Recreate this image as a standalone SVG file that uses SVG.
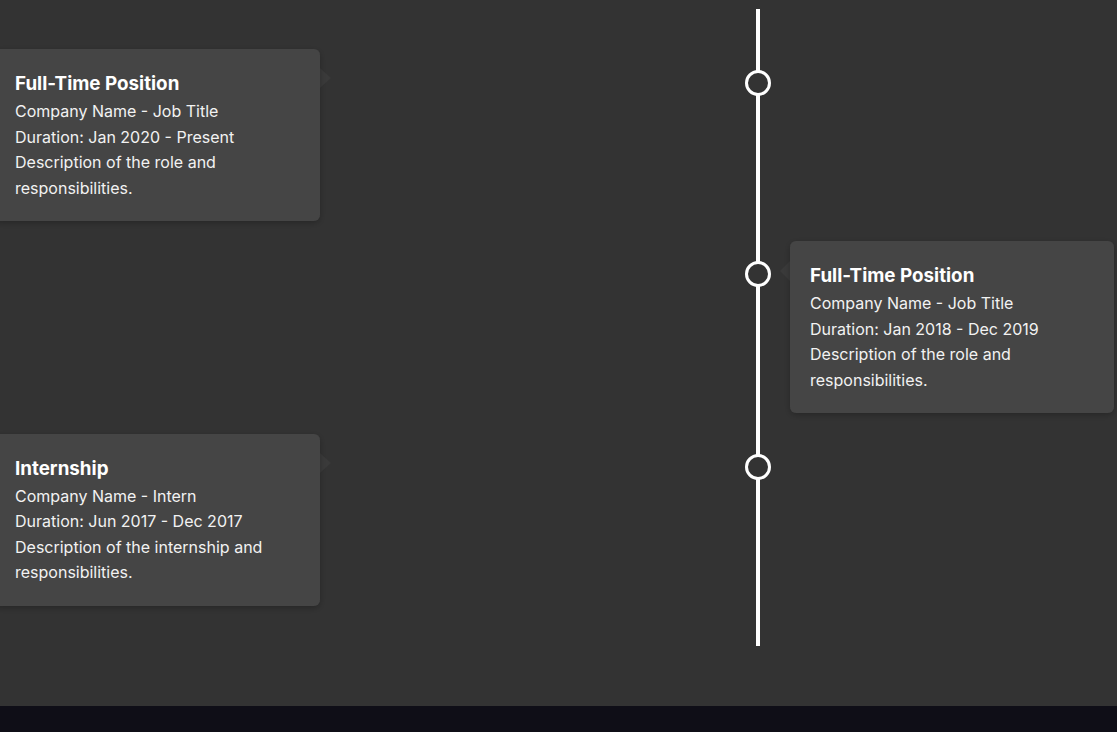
<svg xmlns="http://www.w3.org/2000/svg" width="1117" height="732" viewBox="0 0 1117 732">
  <style>
    .card { fill: #444444; }
    .tip { fill: #3a3a3a; }
    .title { font-family: Inter, "Noto Sans", sans-serif; font-size: 18.8px; font-weight: 700; fill: #ffffff; }
    .body { font-family: Inter, "Noto Sans", sans-serif; font-size: 16px; font-weight: 400; fill: #f2f2f2; }
    .dot { fill: #333333; stroke: #ffffff; stroke-width: 3; }
  </style>
  <defs>
    <filter id="shadow" x="-10%" y="-10%" width="120%" height="130%">
      <feDropShadow dx="0" dy="2" stdDeviation="3" flood-color="#000" flood-opacity="0.25"/>
    </filter>
  </defs>
  <rect x="0" y="0" width="1117" height="706" fill="#333333"/>
  <rect x="0" y="706" width="1117" height="26" fill="#0f0e17"/>

  <g id="connectors">
    <rect x="756" y="9" width="4" height="637" fill="#ffffff"/>
  </g>

  <g id="dot-2020"><circle class="dot" cx="758" cy="83" r="11.5"/></g>
  <g id="dot-2018"><circle class="dot" cx="758" cy="274" r="11.5"/></g>
  <g id="dot-2017"><circle class="dot" cx="758" cy="467" r="11.5"/></g>

  <g id="card-2020">
    <polygon class="tip" points="320,68 331,78 320,88"/>
    <rect class="card" x="-6" y="49" width="326" height="172" rx="6" filter="url(#shadow)"/>
    <text class="title" x="15" y="90">Full-Time Position</text>
    <text class="body" x="15" y="117">Company Name - Job Title</text>
    <text class="body" x="15" y="143">Duration: Jan 2020 - Present</text>
    <text class="body" x="15" y="168">Description of the role and</text>
    <text class="body" x="15" y="194">responsibilities.</text>
  </g>

  <g id="card-2018">
    <polygon class="tip" points="790,261 780,271 790,281"/>
    <rect class="card" x="790" y="241" width="324" height="172" rx="6" filter="url(#shadow)"/>
    <text class="title" x="810" y="282">Full-Time Position</text>
    <text class="body" x="810" y="309">Company Name - Job Title</text>
    <text class="body" x="810" y="335">Duration: Jan 2018 - Dec 2019</text>
    <text class="body" x="810" y="360">Description of the role and</text>
    <text class="body" x="810" y="386">responsibilities.</text>
  </g>

  <g id="card-2017">
    <polygon class="tip" points="320,453 331,463 320,473"/>
    <rect class="card" x="-6" y="434" width="326" height="172" rx="6" filter="url(#shadow)"/>
    <text class="title" x="15" y="475">Internship</text>
    <text class="body" x="15" y="502">Company Name - Intern</text>
    <text class="body" x="15" y="527">Duration: Jun 2017 - Dec 2017</text>
    <text class="body" x="15" y="553">Description of the internship and</text>
    <text class="body" x="15" y="578">responsibilities.</text>
  </g>
</svg>
